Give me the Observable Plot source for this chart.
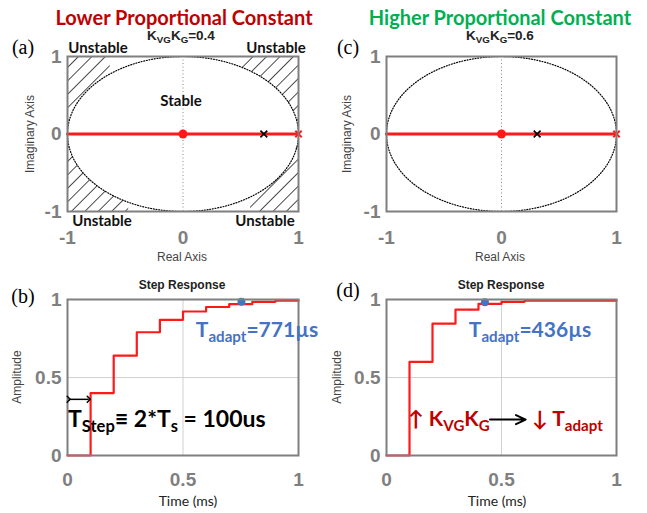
<!DOCTYPE html>
<html>
<head>
<meta charset="utf-8">
<script src="https://cdn.jsdelivr.net/npm/d3@7"></script>
<script src="https://cdn.jsdelivr.net/npm/@observablehq/plot@0.6"></script>
<style>
  html, body { margin: 0; padding: 0; background: #fff; }
  #root { position: relative; width: 647px; height: 513px; overflow: hidden; background: #fff; }
  .panel { position: absolute; }
  .lbl { position: absolute; white-space: nowrap; line-height: 1; transform: translate(-50%, -50%); }
  .lft { transform: translate(0, -50%); }
  .rot { transform: translate(-50%, -50%) rotate(-90deg); }
  .sub { font-size: 0.72em; vertical-align: -0.32em; }
  .cal { font-family: Lato, "Open Sans", sans-serif; font-weight: bold; }
  .ari { font-family: "Liberation Sans", Arial, sans-serif; }
</style>
</head>
<body>
<div id="root"></div>
<script>
// ---------- data ----------
const locusReal = [-1, 1];               // root locus branch along the real axis
const locusZero = [0];                   // closed-loop zero (red dot)
const openLoopPole = [1];                // open-loop pole (red x)
const poleA = [0.70];                    // closed-loop pole, K_VG K_G = 0.4
const poleC = [0.31];                    // closed-loop pole, K_VG K_G = 0.6
const locusTicks = [-1, 0, 1];

const stepTimeB = [0, 0.1, 0.2, 0.3, 0.4, 0.5, 0.6, 0.7, 0.8, 0.9, 1.0];
const stepAmpB  = [0, 0.40, 0.64, 0.79, 0.87, 0.923, 0.952, 0.970, 0.985, 0.992, 0.995];
const stepTimeD = [0, 0.1, 0.2, 0.3, 0.4, 0.5, 0.6, 1.0];
const stepAmpD  = [0, 0.60, 0.845, 0.935, 0.972, 0.985, 0.992, 0.995];
const stepTicks = [0, 0.5, 1];
const adaptB = {t: 0.753, a: 0.985};     // T_adapt = 771 µs marker
const adaptD = {t: 0.428, a: 0.982};     // T_adapt = 436 µs marker

// hatched "unstable" corner spans (real-axis extents)
const hatchSpans = [
  {x0: -1, x1: -0.63, side: 1},
  {x0: 0.50, x1: 1, side: 1},
  {x0: -1, x1: -0.47, side: -1},
  {x0: 0.585, x1: 1, side: -1}
];

// ---------- helpers ----------
const root = document.getElementById("root");
const GRAY = "#7f7f7f";
const RED = "#ff1a1a";

function unitCircle() {
  return d3.range(0, 361, 1).map(d => ({x: Math.cos(d * Math.PI / 180), y: Math.sin(d * Math.PI / 180)}));
}

function hatchDefs() {
  const ns = "http://www.w3.org/2000/svg";
  const defs = document.createElementNS(ns, "defs");
  defs.innerHTML = `<pattern id="hatch" patternUnits="userSpaceOnUse" width="9.5" height="9.5" patternTransform="rotate(45)"><line x1="0" y1="-1" x2="0" y2="11" stroke="#000" stroke-width="1.4"/></pattern>`;
  return defs;
}

function place(left, top, svg) {
  svg.classList.add("panel");
  svg.style.left = left + "px";
  svg.style.top = top + "px";
  root.appendChild(svg);
}

function label(html, x, y, cls, style) {
  const d = document.createElement("div");
  d.className = "lbl " + (cls || "");
  d.innerHTML = html;
  d.style.left = x + "px";
  d.style.top = y + "px";
  Object.assign(d.style, style || {});
  root.appendChild(d);
}

const axisStyle = {tickSize: 0, fontSize: 19, fontWeight: "bold", color: GRAY, fontFamily: "Liberation Sans, Arial, sans-serif", label: null, tickFormat: d => String(d)};

function locusPlot(opts) {
  const marks = [];
  if (opts.hatch) {
    marks.push(hatchDefs);
    for (const s of hatchSpans) {
      const pts = d3.range(s.x0, s.x1 + 1e-9, 0.005).concat([s.x1]).map(x => ({x, c: s.side * Math.sqrt(Math.max(0, 1 - x * x))}));
      marks.push(Plot.areaY(pts, {x: "x", y1: "c", y2: s.side, fill: "url(#hatch)"}));
    }
  }
  marks.push(
    Plot.ruleX([0], {stroke: "#888", strokeWidth: 1, strokeDasharray: "1,2.5"}),
    Plot.line(unitCircle(), {x: "x", y: "y", stroke: "#000", strokeWidth: 1.2, strokeDasharray: "1,1.7"}),
    Plot.line(locusReal, {x: d => d, y: () => 0, stroke: RED, strokeWidth: 3.2}),
    Plot.dot(locusZero, {x: d => d, y: () => 0, r: 4.5, fill: RED, stroke: "none"}),
    Plot.dot(openLoopPole, {x: d => d, y: () => 0, r: 3, symbol: "times", stroke: RED, strokeWidth: 2}),
    Plot.dot(opts.pole, {x: d => d, y: () => 0, r: 3.2, symbol: "times", stroke: "#000", strokeWidth: 1.6}),
    Plot.frame({stroke: GRAY, strokeWidth: 2}),
    Plot.axisX({...axisStyle, ticks: locusTicks, tickPadding: 19}),
    Plot.axisY({...axisStyle, ticks: locusTicks, tickPadding: 6})
  );
  return Plot.plot({
    width: opts.width, height: 270,
    marginLeft: opts.ml, marginRight: opts.mr, marginTop: 56, marginBottom: 59,
    x: {domain: [-1, 1]}, y: {domain: [-1, 1]},
    style: {background: "transparent", overflow: "visible"},
    marks
  });
}

function stepPlot(opts) {
  const data = opts.t.map((t, i) => ({t, a: opts.a[i]}));
  const marks = [
    Plot.gridX([0.5], {stroke: "#d0d0d0", strokeOpacity: 1}),
    Plot.gridY([0.5], {stroke: "#d0d0d0", strokeOpacity: 1}),
    Plot.line(data, {x: "t", y: "a", curve: "step-after", stroke: RED, strokeWidth: 2.2}),
    Plot.dot([opts.adapt], {x: "t", y: "a", r: 4, fill: "#4472c4", stroke: "none"}),
    Plot.frame({stroke: GRAY, strokeWidth: 2}),
    Plot.axisX({...axisStyle, ticks: stepTicks, tickPadding: 17}),
    Plot.axisY({...axisStyle, ticks: stepTicks, tickPadding: 6})
  ];
  if (opts.extra) marks.push(...opts.extra);
  return Plot.plot({
    width: opts.width, height: 243,
    marginLeft: opts.ml, marginRight: opts.mr, marginTop: 29, marginBottom: 58,
    x: {domain: [0, 1]}, y: {domain: [0, 1]},
    style: {background: "transparent", overflow: "visible"},
    marks
  });
}

// ---------- panels ----------
place(0, 0, locusPlot({width: 320, ml: 67, mr: 22, pole: poleA, hatch: true}));
place(320, 0, locusPlot({width: 327, ml: 66, mr: 31, pole: poleC, hatch: false}));

const tStepArrow = [{x1: 0.005, x2: 0.092, y: 0.36}];
const kArrow = [{x1: 0.45, x2: 0.605, y: 0.23}];
place(0, 270, stepPlot({width: 320, ml: 67, mr: 22, t: stepTimeB, a: stepAmpB, adapt: adaptB,
  extra: [Plot.link(tStepArrow, {x1: "x1", x2: "x2", y1: "y", y2: "y", stroke: "#000", strokeWidth: 1.5, markerStart: "arrow", markerEnd: "arrow"})]}));
place(320, 270, stepPlot({width: 327, ml: 66, mr: 31, t: stepTimeD, a: stepAmpD, adapt: adaptD,
  extra: [Plot.arrow(kArrow, {x1: "x1", x2: "x2", y1: "y", y2: "y", stroke: "#000", strokeWidth: 2, headLength: 8, headAngle: 50})]}));

// ---------- text ----------
label("Lower Proportional Constant", 184, 17, "cal", {fontSize: "20px", color: "#c00000"});
label("Higher Proportional Constant", 500, 17, "cal", {fontSize: "20px", color: "#00b050"});
label('K<span class="sub">VG</span>K<span class="sub">G</span>=0.4', 181, 37, "ari", {fontSize: "13.5px", fontWeight: "bold", color: "#222"});
label('K<span class="sub">VG</span>K<span class="sub">G</span>=0.6', 500, 37, "ari", {fontSize: "13.5px", fontWeight: "bold", color: "#222"});

label("(a)", 23, 47, "", {fontFamily: "Liberation Serif, serif", fontSize: "20px"});
label("(c)", 348, 47, "", {fontFamily: "Liberation Serif, serif", fontSize: "20px"});
label("(b)", 23, 296, "", {fontFamily: "Liberation Serif, serif", fontSize: "20px"});
label("(d)", 348, 290, "", {fontFamily: "Liberation Serif, serif", fontSize: "20px"});

label("Unstable", 98, 47, "cal", {fontSize: "15px", color: "#111"});
label("Unstable", 276, 47, "cal", {fontSize: "15px", color: "#111"});
label("Unstable", 102, 220, "cal", {fontSize: "15px", color: "#111"});
label("Unstable", 265, 220, "cal", {fontSize: "15px", color: "#111"});
label("Stable", 181, 100, "cal", {fontSize: "15px", color: "#111"});

label("Imaginary Axis", 30, 134, "ari rot", {fontSize: "12px", color: "#444"});
label("Imaginary Axis", 347, 134, "ari rot", {fontSize: "12px", color: "#444"});
label("Real Axis", 182, 257, "ari", {fontSize: "12px", color: "#444"});
label("Real Axis", 500, 257, "ari", {fontSize: "12px", color: "#444"});

label("Step Response", 182, 285, "ari", {fontSize: "12px", fontWeight: "bold", color: "#222"});
label("Step Response", 501, 285, "ari", {fontSize: "12px", fontWeight: "bold", color: "#222"});
label("Amplitude", 17, 377, "ari rot", {fontSize: "12px", color: "#444"});
label("Amplitude", 337, 377, "ari rot", {fontSize: "12px", color: "#444"});
label("Time (ms)", 188, 501, "", {fontFamily: "Lato, sans-serif", fontSize: "14px", color: "#222"});
label("Time (ms)", 497, 501, "", {fontFamily: "Lato, sans-serif", fontSize: "14px", color: "#222"});

label('T<span class="sub">adapt</span>=771µs', 257, 331, "cal", {fontSize: "21px", color: "#4472c4"});
label('T<span class="sub">adapt</span>=436µs', 530, 331, "cal", {fontSize: "21px", color: "#4472c4"});
label('T<span class="sub">Step</span>≡ 2*T<span class="sub">s</span> = 100us', 68, 421, "cal lft", {fontSize: "23px", color: "#000"});
label('↑ K<span class="sub">VG</span>K<span class="sub">G</span>', 408, 420, "cal lft", {fontSize: "21px", color: "#c00000"});
label('↓ T<span class="sub">adapt</span>', 532, 420, "cal lft", {fontSize: "21px", color: "#c00000"});
</script>
</body>
</html>
